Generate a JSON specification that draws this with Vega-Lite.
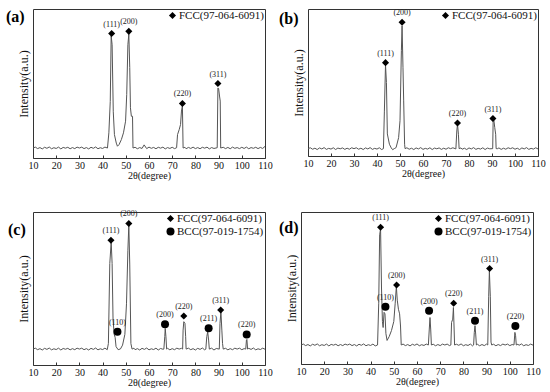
{
  "$schema": "https://vega.github.io/schema/vega-lite/v6.json",
  "autosize": {"type": "pad"},
  "padding": {"left": 5, "top": 8, "right": 0, "bottom": 0},
  "background": "white",
  "config": {
    "view": {"stroke": "#333", "strokeWidth": 1},
    "axis": {"grid": false, "domain": false, "labelFont": "Liberation Serif", "titleFont": "Liberation Serif", "labelColor": "#111", "titleColor": "#111", "titleFontWeight": "normal"},
    "axisX": {"labelFontSize": 10, "titleFontSize": 10, "tickSize": -3, "tickColor": "#333", "labelPadding": 5, "titlePadding": 0, "labelFlush": false, "labelOverlap": false},
    "axisY": {"labels": false, "ticks": false, "titleFontSize": 12, "titlePadding": 3},
    "title": {"anchor": "start", "frame": "group", "orient": "none", "offset": 0, "baseline": "top", "font": "Liberation Serif", "fontSize": 16, "fontWeight": "bold", "color": "black"},
    "legend": {"orient": "top-right", "offset": 1, "padding": 0, "labelFont": "Liberation Serif", "labelFontSize": 11, "labelColor": "#111", "rowPadding": 1, "labelOffset": 1, "symbolStrokeWidth": 0}
  },
  "datasets": {
    "a": [
      {"x":10,"y":6.7},{"x":11,"y":7.3},{"x":12,"y":6.3},{"x":13,"y":7.0},{"x":14,"y":6.1},{"x":15,"y":7.2},{"x":16,"y":6.5},{"x":17,"y":7.4},{"x":18,"y":6.2},{"x":19,"y":6.9},{"x":20,"y":6.4},{"x":21,"y":7.3},{"x":22,"y":6.1},{"x":23,"y":7.1},{"x":24,"y":6.6},{"x":25,"y":7.2},{"x":26,"y":6.2},{"x":27,"y":7.0},{"x":28,"y":6.3},{"x":29,"y":7.3},{"x":30,"y":6.7},{"x":31,"y":7.3},{"x":32,"y":6.3},{"x":33,"y":7.0},{"x":34,"y":6.1},{"x":35,"y":7.2},{"x":36,"y":6.5},{"x":37,"y":7.4},{"x":38,"y":6.2},{"x":39,"y":6.9},{"x":40,"y":6.4},{"x":41,"y":7.3},{"x":42.1,"y":6.7},
      {"x":42.7,"y":16.9},{"x":43.3,"y":38},{"x":43.7,"y":82},{"x":44.1,"y":76},{"x":44.6,"y":31},{"x":45.1,"y":15.7},{"x":45.9,"y":10},{"x":46.4,"y":7.9},{"x":47.1,"y":9},{"x":48.1,"y":12.4},{"x":49,"y":16.9},{"x":49.9,"y":24.7},{"x":50.4,"y":42.7},{"x":50.9,"y":76},{"x":51.3,"y":83},{"x":51.7,"y":60.7},{"x":52,"y":33.7},{"x":52.4,"y":28},{"x":52.9,"y":28},{"x":53.1,"y":6.7},
      {"x":54,"y":7.2},{"x":55,"y":6.2},{"x":56,"y":7.0},{"x":57,"y":6.4},{"x":57.9,"y":8.8},{"x":59,"y":6.3},{"x":60,"y":7.3},{"x":61,"y":6.5},{"x":62,"y":7.1},{"x":63,"y":6.2},{"x":64,"y":7.2},{"x":65,"y":6.6},{"x":66,"y":7.3},{"x":67,"y":6.1},{"x":68,"y":7.0},{"x":69,"y":6.4},{"x":70,"y":7.2},{"x":71,"y":6.3},{"x":71.9,"y":6.9},
      {"x":72.3,"y":15.7},{"x":73,"y":19},{"x":73.6,"y":22.5},{"x":74,"y":31.5},{"x":74.4,"y":35},{"x":74.7,"y":6.7},
      {"x":75.5,"y":7.2},{"x":76,"y":6.2},{"x":77,"y":7.1},{"x":78,"y":6.4},{"x":79,"y":7.3},{"x":80,"y":6.3},{"x":81,"y":7.0},{"x":82,"y":6.2},{"x":83,"y":7.2},{"x":84,"y":6.6},{"x":85,"y":7.3},{"x":86,"y":6.1},{"x":87,"y":7.0},{"x":88,"y":6.4},{"x":89.4,"y":6.9},
      {"x":89.7,"y":47},{"x":90,"y":46.7},{"x":90.4,"y":41.6},{"x":90.7,"y":38.2},{"x":90.9,"y":6.7},
      {"x":92,"y":7.2},{"x":93,"y":6.3},{"x":94,"y":7.1},{"x":95,"y":6.2},{"x":96,"y":7.3},{"x":97,"y":6.5},{"x":98,"y":7.0},{"x":99,"y":6.3},{"x":100,"y":7.2},{"x":101,"y":6.4},{"x":102,"y":7.3},{"x":103,"y":6.2},{"x":104,"y":7.0},{"x":105,"y":6.5},{"x":106,"y":7.2},{"x":107,"y":6.3},{"x":108,"y":7.1},{"x":109,"y":6.4},{"x":110,"y":7.8}
    ],
    "b": [
      {"x":10,"y":5.0},{"x":11,"y":5.6},{"x":12,"y":4.6},{"x":13,"y":5.3},{"x":14,"y":4.4},{"x":15,"y":5.5},{"x":16,"y":4.8},{"x":17,"y":5.7},{"x":18,"y":4.5},{"x":19,"y":5.2},{"x":20,"y":4.7},{"x":21,"y":5.6},{"x":22,"y":4.4},{"x":23,"y":5.4},{"x":24,"y":4.9},{"x":25,"y":5.5},{"x":26,"y":4.5},{"x":27,"y":5.3},{"x":28,"y":4.6},{"x":29,"y":5.6},{"x":30,"y":5.0},{"x":31,"y":5.6},{"x":32,"y":4.6},{"x":33,"y":5.3},{"x":34,"y":4.4},{"x":35,"y":5.5},{"x":36,"y":4.8},{"x":37,"y":5.7},{"x":38,"y":4.5},{"x":39,"y":5.2},{"x":40,"y":4.7},{"x":41,"y":5.6},{"x":42,"y":4.4},{"x":42.8,"y":5.0},
      {"x":43.2,"y":30},{"x":43.7,"y":62},{"x":44.1,"y":50},{"x":44.5,"y":15},{"x":45.4,"y":8},{"x":46.2,"y":5.5},{"x":46.8,"y":4.3},{"x":47.5,"y":5},{"x":48.3,"y":5.7},{"x":49.4,"y":12.5},{"x":50,"y":24},{"x":50.6,"y":71.6},{"x":50.9,"y":88.6},{"x":51.3,"y":60},{"x":51.6,"y":37.5},{"x":52,"y":8},{"x":52.2,"y":5.0},
      {"x":53,"y":5.6},{"x":54,"y":4.6},{"x":55,"y":5.3},{"x":56,"y":4.4},{"x":57,"y":5.5},{"x":58,"y":4.8},{"x":59,"y":5.7},{"x":60,"y":4.5},{"x":61,"y":5.2},{"x":62,"y":4.7},{"x":63,"y":5.6},{"x":64,"y":4.4},{"x":65,"y":5.4},{"x":66,"y":4.9},{"x":67,"y":5.5},{"x":68,"y":4.5},{"x":69,"y":5.3},{"x":70,"y":4.6},{"x":71,"y":5.6},{"x":72,"y":5.0},{"x":73,"y":5.6},{"x":74.3,"y":4.8},
      {"x":74.7,"y":17},{"x":75,"y":21.6},{"x":75.4,"y":14.8},{"x":75.7,"y":5.0},
      {"x":76.5,"y":5.5},{"x":77,"y":4.6},{"x":78,"y":5.3},{"x":79,"y":4.4},{"x":80,"y":5.5},{"x":81,"y":4.8},{"x":82,"y":5.7},{"x":83,"y":4.5},{"x":84,"y":5.2},{"x":85,"y":4.7},{"x":86,"y":5.6},{"x":87,"y":4.4},{"x":88,"y":5.4},{"x":89,"y":4.9},{"x":90.3,"y":5.0},
      {"x":90.5,"y":23.9},{"x":90.8,"y":24.5},{"x":91.2,"y":19.3},{"x":91.6,"y":14.8},{"x":91.8,"y":5.0},
      {"x":92.5,"y":5.0},{"x":93,"y":5.5},{"x":94,"y":4.5},{"x":95,"y":5.3},{"x":96,"y":4.6},{"x":97,"y":5.6},{"x":98,"y":5.0},{"x":99,"y":5.6},{"x":100,"y":4.6},{"x":101,"y":5.3},{"x":102,"y":4.4},{"x":103,"y":5.5},{"x":104,"y":4.8},{"x":105,"y":5.7},{"x":106,"y":4.5},{"x":107,"y":5.2},{"x":108,"y":4.7},{"x":109,"y":5.6},{"x":110,"y":4.8}
    ],
    "c": [
      {"x":10,"y":10.4},{"x":11,"y":11.0},{"x":12,"y":10.0},{"x":13,"y":10.7},{"x":14,"y":9.8},{"x":15,"y":10.9},{"x":16,"y":10.2},{"x":17,"y":11.1},{"x":18,"y":9.9},{"x":19,"y":10.6},{"x":20,"y":10.1},{"x":21,"y":11.0},{"x":22,"y":9.8},{"x":23,"y":10.8},{"x":24,"y":10.3},{"x":25,"y":10.9},{"x":26,"y":9.9},{"x":27,"y":10.7},{"x":28,"y":10.0},{"x":29,"y":11.0},{"x":30,"y":10.4},{"x":31,"y":11.0},{"x":32,"y":10.0},{"x":33,"y":10.7},{"x":34,"y":9.8},{"x":35,"y":10.9},{"x":36,"y":10.2},{"x":37,"y":11.1},{"x":38,"y":9.9},{"x":39,"y":10.6},{"x":40,"y":10.1},{"x":41,"y":11.0},{"x":42,"y":10.0},
      {"x":42.5,"y":14.1},{"x":43.1,"y":66.3},{"x":43.7,"y":80.4},{"x":44.1,"y":66.3},{"x":44.5,"y":30},{"x":45.0,"y":20},{"x":45.4,"y":18},{"x":45.8,"y":12},{"x":46.7,"y":10},{"x":47.7,"y":10.5},{"x":48.6,"y":13},{"x":49.6,"y":20},{"x":50.3,"y":40},{"x":50.9,"y":75},{"x":51.3,"y":91.3},{"x":51.7,"y":66},{"x":52.2,"y":14},{"x":52.7,"y":10.4},
      {"x":53.5,"y":11.0},{"x":54,"y":10.0},{"x":55,"y":10.7},{"x":56,"y":9.8},{"x":57,"y":10.9},{"x":58,"y":10.2},{"x":59,"y":11.1},{"x":60,"y":9.9},{"x":61,"y":10.6},{"x":62,"y":10.1},{"x":63,"y":11.0},{"x":64,"y":9.8},{"x":65,"y":10.8},{"x":66,"y":10.3},{"x":66.4,"y":10.4},
      {"x":66.8,"y":18.5},{"x":67.0,"y":23.9},{"x":67.3,"y":18.5},{"x":67.6,"y":10.4},
      {"x":68,"y":10.9},{"x":69,"y":9.9},{"x":70,"y":10.7},{"x":71,"y":10.0},{"x":72,"y":11.0},{"x":73,"y":10.4},{"x":74,"y":10.9},{"x":74.5,"y":10.4},
      {"x":74.7,"y":22.8},{"x":75.0,"y":28.3},{"x":75.5,"y":27.2},{"x":75.8,"y":18.5},{"x":76.0,"y":10.4},
      {"x":77,"y":11.0},{"x":78,"y":10.0},{"x":79,"y":10.7},{"x":80,"y":9.8},{"x":81,"y":10.9},{"x":82,"y":10.2},{"x":83,"y":11.1},{"x":84,"y":9.9},{"x":84.5,"y":10.4},
      {"x":84.9,"y":18.5},{"x":85.3,"y":21.7},{"x":85.7,"y":16.3},{"x":86,"y":10.4},
      {"x":87,"y":11.0},{"x":88,"y":9.8},{"x":89,"y":10.8},{"x":90.3,"y":10.4},
      {"x":90.6,"y":27.2},{"x":91.0,"y":34.8},{"x":91.4,"y":22.8},{"x":91.7,"y":14.1},{"x":92,"y":10.4},
      {"x":93,"y":10.9},{"x":94,"y":9.9},{"x":95,"y":10.7},{"x":96,"y":10.0},{"x":97,"y":11.0},{"x":98,"y":10.4},{"x":99,"y":11.0},{"x":100,"y":10.0},{"x":101,"y":10.7},{"x":101.7,"y":10.4},
      {"x":102.0,"y":16.3},{"x":102.2,"y":16.7},{"x":102.5,"y":10.4},
      {"x":103,"y":10.9},{"x":104,"y":10.2},{"x":105,"y":11.1},{"x":106,"y":9.9},{"x":107,"y":10.6},{"x":108,"y":10.1},{"x":109,"y":11.0},{"x":110,"y":10.3}
    ],
    "d": [
      {"x":10,"y":12.5},{"x":11,"y":13.1},{"x":12,"y":12.1},{"x":13,"y":12.8},{"x":14,"y":11.9},{"x":15,"y":13.0},{"x":16,"y":12.3},{"x":17,"y":13.2},{"x":18,"y":12.0},{"x":19,"y":12.7},{"x":20,"y":12.2},{"x":21,"y":13.1},{"x":22,"y":11.9},{"x":23,"y":12.9},{"x":24,"y":12.4},{"x":25,"y":13.0},{"x":26,"y":12.0},{"x":27,"y":12.8},{"x":28,"y":12.1},{"x":29,"y":13.1},{"x":30,"y":12.5},{"x":31,"y":13.1},{"x":32,"y":12.1},{"x":33,"y":12.8},{"x":34,"y":11.9},{"x":35,"y":13.0},{"x":36,"y":12.3},{"x":37,"y":13.2},{"x":38,"y":12.0},{"x":39,"y":12.7},{"x":40,"y":12.2},{"x":41,"y":13.1},{"x":42,"y":11.9},{"x":43.0,"y":12.5},
      {"x":43.5,"y":40},{"x":43.9,"y":85},{"x":44.3,"y":89},{"x":44.7,"y":50},{"x":45.1,"y":28},{"x":45.4,"y":24},{"x":45.8,"y":34},{"x":46.2,"y":33},{"x":46.6,"y":20},{"x":47.1,"y":15.5},{"x":48,"y":18},{"x":49,"y":22},{"x":50,"y":28},{"x":50.6,"y":40},{"x":51.1,"y":51},{"x":51.5,"y":42},{"x":52,"y":36},{"x":52.5,"y":33},{"x":52.9,"y":25},{"x":53.2,"y":12.5},
      {"x":54,"y":13.1},{"x":55,"y":12.1},{"x":56,"y":12.8},{"x":57,"y":11.9},{"x":58,"y":13.0},{"x":59,"y":12.3},{"x":60,"y":13.2},{"x":61,"y":12.0},{"x":62,"y":12.7},{"x":63,"y":12.2},{"x":64,"y":13.1},{"x":64.9,"y":12.5},
      {"x":65.3,"y":23},{"x":65.6,"y":30.6},{"x":65.9,"y":23},{"x":66.2,"y":12.5},
      {"x":67,"y":13.0},{"x":68,"y":12.0},{"x":69,"y":12.8},{"x":70,"y":12.1},{"x":71,"y":13.1},{"x":72,"y":12.5},{"x":73,"y":13.1},{"x":74,"y":12.1},{"x":74.6,"y":12.5},
      {"x":74.9,"y":27.4},{"x":75.4,"y":29.5},{"x":75.7,"y":37.2},{"x":76.0,"y":23},{"x":76.2,"y":12.5},
      {"x":77,"y":13.0},{"x":78,"y":12.3},{"x":79,"y":13.2},{"x":80,"y":12.0},{"x":81,"y":12.7},{"x":82,"y":12.2},{"x":83,"y":13.1},{"x":84,"y":11.9},{"x":84.4,"y":12.5},
      {"x":84.7,"y":20.8},{"x":85.0,"y":25.2},{"x":85.3,"y":19.7},{"x":85.6,"y":12.5},
      {"x":86,"y":13.0},{"x":87,"y":12.0},{"x":88,"y":12.8},{"x":89,"y":12.1},{"x":90,"y":13.1},{"x":90.5,"y":12.5},
      {"x":90.9,"y":44.6},{"x":91.2,"y":61},{"x":91.6,"y":44.6},{"x":91.9,"y":14.4},{"x":92.2,"y":12.5},
      {"x":93,"y":13.0},{"x":94,"y":12.0},{"x":95,"y":12.8},{"x":96,"y":12.1},{"x":97,"y":13.1},{"x":98,"y":12.5},{"x":99,"y":13.1},{"x":100,"y":12.1},{"x":101,"y":12.8},{"x":101.8,"y":12.5},
      {"x":102.2,"y":20.8},{"x":102.5,"y":18.6},{"x":102.8,"y":12.5},
      {"x":103.5,"y":13.0},{"x":104,"y":12.3},{"x":105,"y":13.2},{"x":106,"y":12.0},{"x":107,"y":12.7},{"x":108,"y":12.2},{"x":109,"y":13.1},{"x":110,"y":12.4}
    ],
    "m": [
      {"panel":"a","x":43.9,"y":83.5,"phase":"FCC(97-064-6091)","label":"(111)"},
      {"panel":"a","x":51.3,"y":85,"phase":"FCC(97-064-6091)","label":"(200)"},
      {"panel":"a","x":74.4,"y":36.6,"phase":"FCC(97-064-6091)","label":"(220)"},
      {"panel":"a","x":89.7,"y":50,"phase":"FCC(97-064-6091)","label":"(311)"},
      {"panel":"b","x":43.7,"y":63.5,"phase":"FCC(97-064-6091)","label":"(111)"},
      {"panel":"b","x":50.9,"y":91,"phase":"FCC(97-064-6091)","label":"(200)"},
      {"panel":"b","x":75,"y":22.5,"phase":"FCC(97-064-6091)","label":"(220)"},
      {"panel":"b","x":90.4,"y":25.5,"phase":"FCC(97-064-6091)","label":"(311)"},
      {"panel":"c","x":43.6,"y":81.5,"phase":"FCC(97-064-6091)","label":"(111)"},
      {"panel":"c","x":51.3,"y":92.5,"phase":"FCC(97-064-6091)","label":"(200)"},
      {"panel":"c","x":46.4,"y":21.7,"phase":"BCC(97-019-1754)","label":"(110)"},
      {"panel":"c","x":66.9,"y":26.7,"phase":"BCC(97-019-1754)","label":"(200)"},
      {"panel":"c","x":75.0,"y":32,"phase":"FCC(97-064-6091)","label":"(220)"},
      {"panel":"c","x":85.7,"y":24,"phase":"BCC(97-019-1754)","label":"(211)"},
      {"panel":"c","x":90.9,"y":36,"phase":"FCC(97-064-6091)","label":"(311)"},
      {"panel":"c","x":102.1,"y":20,"phase":"BCC(97-019-1754)","label":"(220)"},
      {"panel":"d","x":44.3,"y":90,"phase":"FCC(97-064-6091)","label":"(111)"},
      {"panel":"d","x":46.4,"y":37.6,"phase":"BCC(97-019-1754)","label":"(110)"},
      {"panel":"d","x":51.2,"y":52,"phase":"FCC(97-064-6091)","label":"(200)"},
      {"panel":"d","x":65.2,"y":35,"phase":"BCC(97-019-1754)","label":"(200)"},
      {"panel":"d","x":75.8,"y":40,"phase":"FCC(97-064-6091)","label":"(220)"},
      {"panel":"d","x":85.0,"y":28.5,"phase":"BCC(97-019-1754)","label":"(211)"},
      {"panel":"d","x":91.3,"y":62.8,"phase":"FCC(97-064-6091)","label":"(311)"},
      {"panel":"d","x":102.4,"y":25,"phase":"BCC(97-019-1754)","label":"(220)"}
    ]
  },
  "resolve": {"scale": {"shape": "independent", "size": "independent"}},
  "spacing": 28,
  "vconcat": [
    {
      "spacing": 5,
      "resolve": {"scale": {"shape": "independent", "size": "independent"}},
      "hconcat": [
        {
          "width": 232, "height": 149,
          "title": {"text": "(a)", "dx": -27, "dy": 0},
          "encoding": {
            "x": {"field": "x", "type": "quantitative", "scale": {"domain": [10, 110]}, "axis": {"title": "2θ(degree)", "values": [10, 20, 30, 40, 50, 60, 70, 80, 90, 100, 110], "labelOverlap": false}},
            "y": {"field": "y", "type": "quantitative", "scale": {"domain": [0, 100]}, "axis": {"title": "Intensity(a.u.)"}}
          },
          "layer": [
            {"data": {"name": "a"}, "mark": {"type": "line", "color": "#555", "strokeWidth": 1}},
            {"data": {"name": "m"}, "transform": [{"filter": "datum.panel === 'a'"}], "mark": {"type": "point", "filled": true, "color": "black", "opacity": 1},
             "encoding": {"shape": {"field": "phase", "type": "nominal", "scale": {"domain": ["FCC(97-064-6091)"], "range": ["diamond"]}, "legend": {"title": null}},
                          "size": {"field": "phase", "type": "nominal", "scale": {"domain": ["FCC(97-064-6091)"], "range": [50, 50]}, "legend": {"title": null}}}},
            {"data": {"name": "m"}, "transform": [{"filter": "datum.panel === 'a'"}], "mark": {"type": "text", "dy": -7, "baseline": "alphabetic", "font": "Liberation Serif", "fontSize": 8, "color": "#222"},
             "encoding": {"text": {"field": "label"}}}
          ]
        },
        {
          "width": 230, "height": 147,
          "title": {"text": "(b)", "dx": -29, "dy": 2},
          "encoding": {
            "x": {"field": "x", "type": "quantitative", "scale": {"domain": [10, 110]}, "axis": {"title": "2θ(degree)", "values": [10, 20, 30, 40, 50, 60, 70, 80, 90, 100, 110], "labelOverlap": false}},
            "y": {"field": "y", "type": "quantitative", "scale": {"domain": [0, 100]}, "axis": {"title": "Intensity(a.u.)"}}
          },
          "layer": [
            {"data": {"name": "b"}, "mark": {"type": "line", "color": "#555", "strokeWidth": 1}},
            {"data": {"name": "m"}, "transform": [{"filter": "datum.panel === 'b'"}], "mark": {"type": "point", "filled": true, "color": "black", "opacity": 1},
             "encoding": {"shape": {"field": "phase", "type": "nominal", "scale": {"domain": ["FCC(97-064-6091)"], "range": ["diamond"]}, "legend": {"title": null}},
                          "size": {"field": "phase", "type": "nominal", "scale": {"domain": ["FCC(97-064-6091)"], "range": [50, 50]}, "legend": {"title": null}}}},
            {"data": {"name": "m"}, "transform": [{"filter": "datum.panel === 'b'"}], "mark": {"type": "text", "dy": -7, "baseline": "alphabetic", "font": "Liberation Serif", "fontSize": 8, "color": "#222"},
             "encoding": {"text": {"field": "label"}}}
          ]
        }
      ]
    },
    {
      "spacing": 5,
      "resolve": {"scale": {"shape": "independent", "size": "independent"}},
      "hconcat": [
        {
          "width": 232, "height": 153,
          "title": {"text": "(c)", "dx": -25, "dy": 10},
          "encoding": {
            "x": {"field": "x", "type": "quantitative", "scale": {"domain": [10, 110]}, "axis": {"title": "2θ(degree)", "values": [10, 20, 30, 40, 50, 60, 70, 80, 90, 100, 110], "labelOverlap": false}},
            "y": {"field": "y", "type": "quantitative", "scale": {"domain": [0, 100]}, "axis": {"title": "Intensity(a.u.)"}}
          },
          "layer": [
            {"data": {"name": "c"}, "mark": {"type": "line", "color": "#555", "strokeWidth": 1}},
            {"data": {"name": "m"}, "transform": [{"filter": "datum.panel === 'c'"}], "mark": {"type": "point", "filled": true, "color": "black", "opacity": 1},
             "encoding": {"shape": {"field": "phase", "type": "nominal", "scale": {"domain": ["FCC(97-064-6091)", "BCC(97-019-1754)"], "range": ["diamond", "circle"]}, "legend": {"title": null}},
                          "size": {"field": "phase", "type": "nominal", "scale": {"domain": ["FCC(97-064-6091)", "BCC(97-019-1754)"], "range": [50, 64]}, "legend": {"title": null}}}},
            {"data": {"name": "m"}, "transform": [{"filter": "datum.panel === 'c'"}], "mark": {"type": "text", "dy": -7, "baseline": "alphabetic", "font": "Liberation Serif", "fontSize": 8, "color": "#222"},
             "encoding": {"text": {"field": "label"}}}
          ]
        },
        {
          "width": 232, "height": 152,
          "title": {"text": "(d)", "dx": -22, "dy": 8},
          "encoding": {
            "x": {"field": "x", "type": "quantitative", "scale": {"domain": [10, 110]}, "axis": {"title": "2θ(degree)", "values": [10, 20, 30, 40, 50, 60, 70, 80, 90, 100, 110], "labelOverlap": false}},
            "y": {"field": "y", "type": "quantitative", "scale": {"domain": [0, 100]}, "axis": {"title": "Intensity(a.u.)"}}
          },
          "layer": [
            {"data": {"name": "d"}, "mark": {"type": "line", "color": "#555", "strokeWidth": 1}},
            {"data": {"name": "m"}, "transform": [{"filter": "datum.panel === 'd'"}], "mark": {"type": "point", "filled": true, "color": "black", "opacity": 1},
             "encoding": {"shape": {"field": "phase", "type": "nominal", "scale": {"domain": ["FCC(97-064-6091)", "BCC(97-019-1754)"], "range": ["diamond", "circle"]}, "legend": {"title": null}},
                          "size": {"field": "phase", "type": "nominal", "scale": {"domain": ["FCC(97-064-6091)", "BCC(97-019-1754)"], "range": [50, 64]}, "legend": {"title": null}}}},
            {"data": {"name": "m"}, "transform": [{"filter": "datum.panel === 'd'"}], "mark": {"type": "text", "dy": -7, "baseline": "alphabetic", "font": "Liberation Serif", "fontSize": 8, "color": "#222"},
             "encoding": {"text": {"field": "label"}}}
          ]
        }
      ]
    }
  ]
}
